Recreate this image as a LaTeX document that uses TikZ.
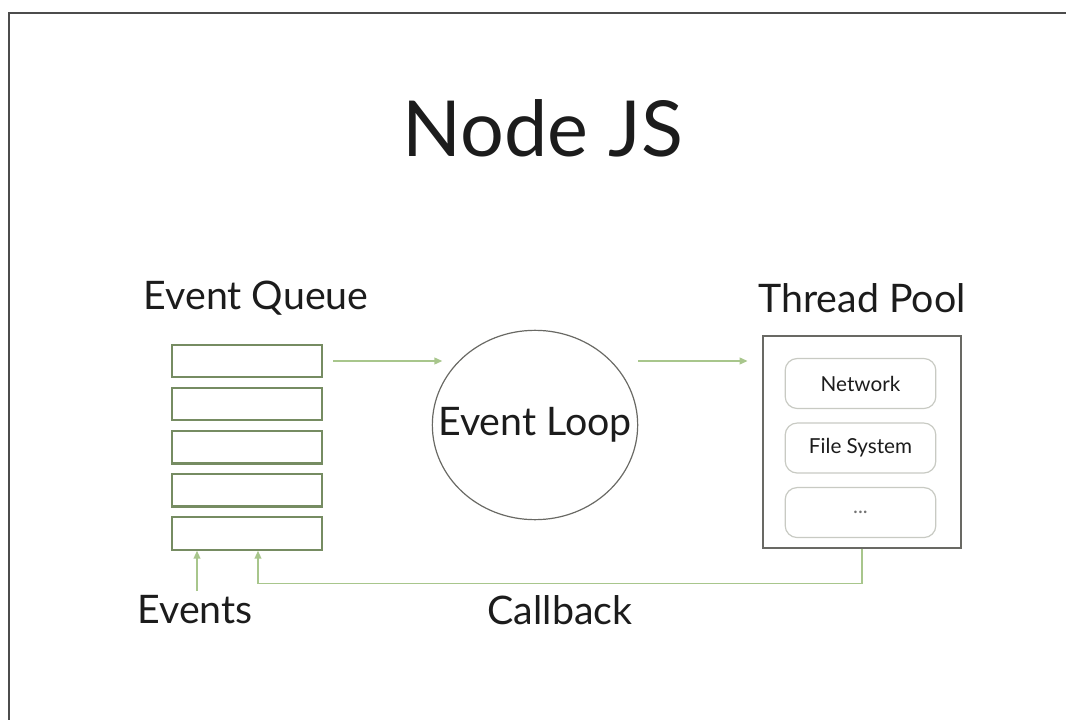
\documentclass[tikz,border=0pt]{standalone}
\usepackage{fontspec}
\setmainfont{Lato}
\usetikzlibrary{positioning,arrows.meta,shapes.geometric}
\definecolor{queueline}{RGB}{118,140,98}
\definecolor{flowgreen}{RGB}{168,198,140}
\definecolor{poolline}{RGB}{105,105,100}
\definecolor{slotline}{RGB}{200,202,195}
\definecolor{textdark}{RGB}{28,28,28}

\tikzset{
  queuebox/.style={draw=queueline, line width=1.6pt, minimum width=112pt, minimum height=24.5pt, inner sep=0pt},
  slotbox/.style={draw=slotline, line width=0.9pt, rounded corners=9pt, minimum width=113pt, minimum height=37.5pt, inner sep=0pt, font=\fontsize{15.5}{18}\selectfont},
  heading/.style={text=textdark, font=\fontsize{29.5}{33}\selectfont},
  flow/.style={draw=flowgreen, line width=1.3pt, -{Triangle[length=6pt,width=5pt]}},
}

\begin{document}
\begin{tikzpicture}[x=0.75pt, y=-0.75pt, text=textdark]
	\useasboundingbox (0,0) rectangle (1066,720);
	\draw[line width=1.5pt, draw=black!70] (9,720) -- (9,13) -- (1066,13);

	\node[font=\fontsize{58}{64}\selectfont] (title) at (543,128) {Node JS};

	% event queue
	\node[heading] (queue) at (256,298) {Event Queue};
	\node[queuebox] (q1) at (247,361) {};
	\node[queuebox, below=6.2pt of q1] (q2) {};
	\node[queuebox, below=6.2pt of q2] (q3) {};
	\node[queuebox, below=6.2pt of q3] (q4) {};
	\node[queuebox, below=6.2pt of q4] (q5) {};

	% loop
	\node[draw=poolline, line width=0.9pt, ellipse, inner sep=0pt, minimum width=154pt, minimum height=142pt] (loop) at (535,425) {};
	\node[heading] (looptext) at (loop.center) {Event Loop};

	% thread pool
	\node[heading] (pooltitle) at (862,298) {Thread Pool};
	\node[draw=poolline, line width=1.5pt, minimum width=148pt, minimum height=159pt] (pool) at (862,441.5) {};
	\node[slotbox] (net) at (860.5,383.5) {Network};
	\node[slotbox, below=10pt of net] (fs) {File System};
	\node[slotbox, below=10pt of fs] (more) {\textcolor{black!55}{...}};

	\node[heading] (events) at (195,610) {Events};
	\node[heading] (callback) at (560,610) {Callback};

	\draw[flow] ([xshift=8pt]q1.east) -- ([xshift=8pt]q1.east -| loop.west);
	\draw[flow] (loop.east |- q1.east) -- ([xshift=-11pt]pool.west |- q1.east);
	\draw[flow] (pool.south) -- ++(0,35) -| ([xshift=8.25pt]q5.south);
	\draw[flow] ([xshift=-37.5pt]q5.south |- events.north) -- ([xshift=-37.5pt]q5.south);
\end{tikzpicture}
\end{document}
